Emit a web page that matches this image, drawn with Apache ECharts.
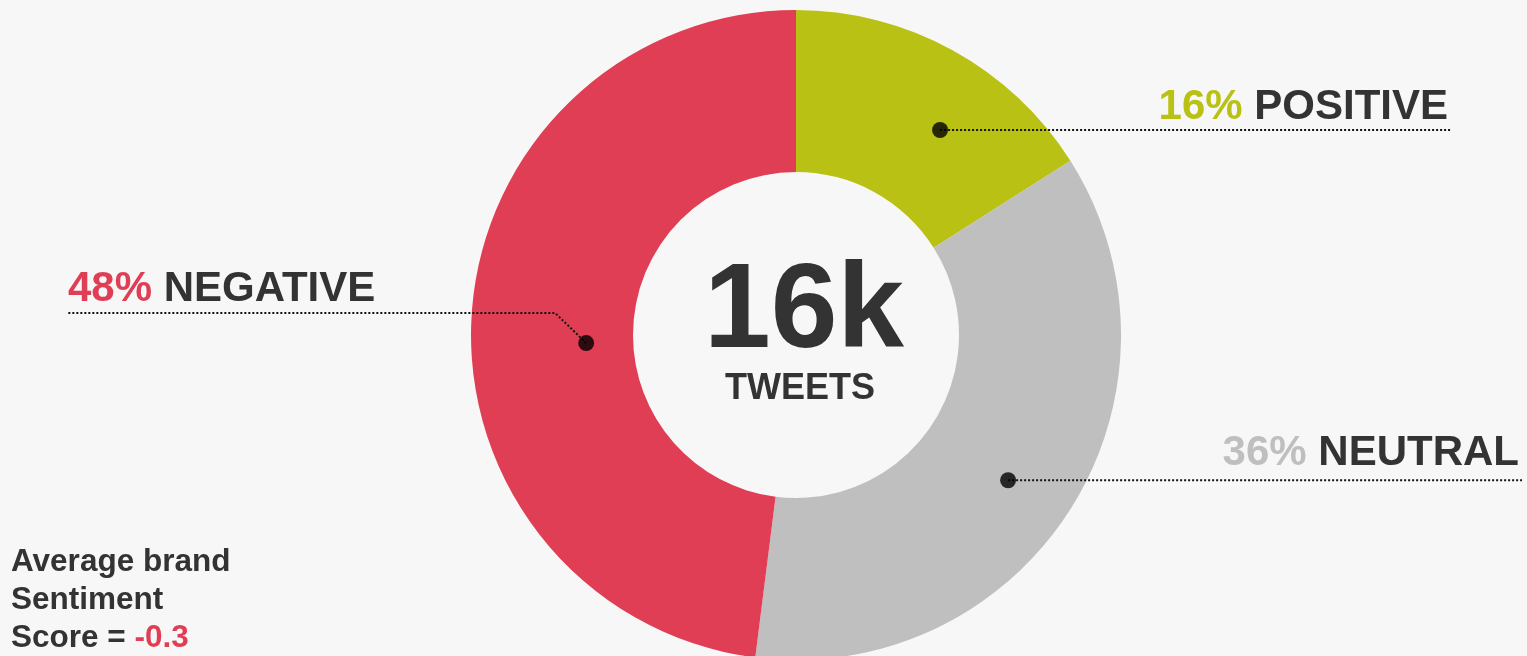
<!DOCTYPE html>
<html><head><meta charset="utf-8">
<script src="https://cdn.jsdelivr.net/npm/echarts@6/dist/echarts.min.js"></script>
<style>html,body{margin:0;padding:0;background:#f7f7f7;} #c{width:1527px;height:656px;}</style>
</head><body><div id="c"></div>
<script>
// ---- data ----
const categories = ['POSITIVE', 'NEUTRAL', 'NEGATIVE'];
const shares = [16, 36, 48];
const dotAngles = [35.1, 124.4, 267.8];   // degrees clockwise from 12 o'clock
const dotRadii = [0.771, 0.791, 0.646];   // fraction of outer radius
const totalLabel = '16k';
const totalUnit = 'TWEETS';
const noteLines = ['Average brand', 'Sentiment', 'Score = '];
const scoreValue = '-0.3';

// ---- styles / layout ----
const colors = ['#B8C114', '#BFBFBF', '#E03E55'];
const TEXT = '#333333';
const FONT = '"Liberation Sans", Arial, sans-serif';
const CX = 796, CY = 335, R_OUT = 325, R_IN = 163;

function dotPx(i) {
  const a = dotAngles[i] * Math.PI / 180;
  const r = dotRadii[i] * R_OUT;
  return [CX + r * Math.sin(a), CY - r * Math.cos(a)];
}

const rich = { n: { fontSize: 42, fontWeight: 'bold', color: TEXT, fontFamily: FONT } };
colors.forEach((c, i) => { rich['p' + i] = { fontSize: 42, fontWeight: 'bold', color: c, fontFamily: FONT }; });

const pieData = categories.map((name, i) => ({ name, value: shares[i], itemStyle: { color: colors[i] } }));

const chart = echarts.init(document.getElementById('c'), null, { renderer: 'canvas' });
chart.setOption({
  backgroundColor: '#f7f7f7',
  animation: false,
  polar: { center: [CX, CY], radius: R_OUT },
  angleAxis: { type: 'value', min: 0, max: 360, startAngle: 90, clockwise: true, show: false,
    splitLine: { show: false }, axisLine: { show: false }, axisLabel: { show: false }, axisTick: { show: false } },
  radiusAxis: { type: 'value', min: 0, max: 1, show: false,
    splitLine: { show: false }, axisLine: { show: false }, axisLabel: { show: false }, axisTick: { show: false } },
  series: [
    {
      type: 'pie',
      center: [CX, CY],
      radius: [R_IN, R_OUT],
      startAngle: 90,
      clockwise: true,
      silent: true,
      emphasis: { disabled: true },
      data: pieData,
      label: { show: false },
      labelLine: { show: false },
      z: 2
    },
    {
      // transparent copy carrying the labels and leader lines above the slices
      type: 'pie',
      center: [CX, CY],
      radius: [R_IN, R_OUT],
      startAngle: 90,
      clockwise: true,
      silent: true,
      emphasis: { disabled: true },
      data: categories.map((name, i) => ({ name, value: shares[i] })),
      itemStyle: { color: 'rgba(0,0,0,0)' },
      label: {
        show: true,
        position: 'outside',
        formatter: p => '{p' + p.dataIndex + '|' + shares[p.dataIndex] + '% }{n|' + p.name + '}',
        rich: rich
      },
      labelLine: { show: true, length: 20, length2: 20, lineStyle: { color: '#111', width: 2, type: 'dotted' } },
      labelLayout: function (params) {
        const i = params.dataIndex;
        const d = dotPx(i);
        if (i === 0) {
          return { x: 1448, y: d[1] - 23, align: 'right', verticalAlign: 'middle',
            labelLinePoints: [d, [d[0] + 1, d[1]], [1452, d[1]]] };
        } else if (i === 1) {
          return { x: 1519, y: d[1] - 27, align: 'right', verticalAlign: 'middle',
            labelLinePoints: [d, [d[0] + 1, d[1]], [1522, d[1]]] };
        } else {
          const ly = d[1] - 30;
          return { x: 68, y: ly - 24, align: 'left', verticalAlign: 'middle',
            labelLinePoints: [d, [d[0] - 31, ly], [68, ly]] };
        }
      },
      z: 3
    },
    {
      type: 'scatter',
      coordinateSystem: 'polar',
      silent: true,
      symbol: 'circle',
      symbolSize: 16,
      itemStyle: { color: '#000' },
      data: dotRadii.map((r, i) => [r, dotAngles[i]]),
      z: 5
    }
  ],
  graphic: [
    { type: 'text', x: CX + 8, y: 314, style: { text: totalLabel, font: 'bold 120px ' + FONT, fill: TEXT, textAlign: 'center', textVerticalAlign: 'middle' } },
    { type: 'text', x: CX + 4, y: 389, style: { text: totalUnit, font: 'bold 36px ' + FONT, fill: TEXT, textAlign: 'center', textVerticalAlign: 'middle' } },
    { type: 'text', x: 11, y: 562, style: { text: noteLines[0], font: 'bold 31.5px ' + FONT, fill: TEXT, textAlign: 'left', textVerticalAlign: 'middle' } },
    { type: 'text', x: 11, y: 600, style: { text: noteLines[1], font: 'bold 31.5px ' + FONT, fill: TEXT, textAlign: 'left', textVerticalAlign: 'middle' } },
    { type: 'text', x: 11, y: 638, style: { text: '{a|' + noteLines[2] + '}{b|' + scoreValue + '}', textAlign: 'left', textVerticalAlign: 'middle',
      rich: { a: { font: 'bold 31.5px ' + FONT, fill: TEXT, color: TEXT }, b: { font: 'bold 31.5px ' + FONT, fill: colors[2], color: colors[2] } } } }
  ]
});
</script>
</body></html>
